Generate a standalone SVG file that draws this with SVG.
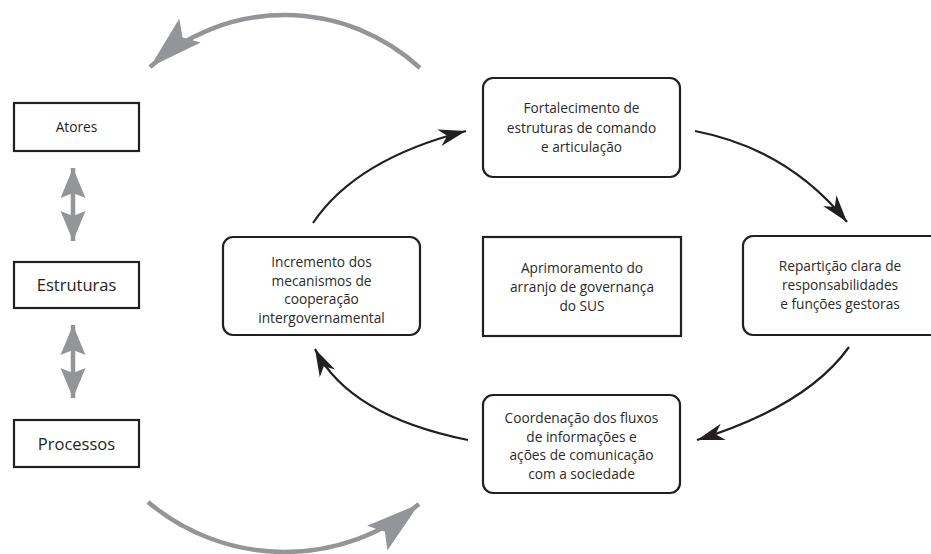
<svg xmlns="http://www.w3.org/2000/svg" width="931" height="554" viewBox="0 0 931 554">
<style>
  .box { fill: #fff; stroke: #231f20; stroke-width: 2.2; }
  .t { font-family: "Open Sans", "Liberation Sans", sans-serif; font-size: 13.7px; fill: #2b2a29; text-anchor: middle; }
  .tl { font-family: "Open Sans", "Liberation Sans", sans-serif; fill: #231f20; text-anchor: middle; }
  .blk { fill: none; stroke: #231f20; stroke-width: 2.2; marker-end: url(#bh); }
  .gry { fill: none; stroke: #939598; stroke-width: 4.5; }
</style>
<defs>
  <marker id="bh" markerUnits="userSpaceOnUse" markerWidth="40" markerHeight="40" viewBox="-30 -15 35 30" refX="0" refY="0" orient="auto">
    <path d="M0,0 L-24,-7.5 L-17,0 L-24,7.5 Z" fill="#231f20"/>
  </marker>
  <marker id="gh" markerUnits="userSpaceOnUse" markerWidth="70" markerHeight="50" viewBox="-60 -25 65 50" refX="0" refY="0" orient="auto">
    <path d="M0,0 L-54,-16 L-44,0 L-54,16 Z" fill="#939598"/>
  </marker>
  <marker id="vh" markerUnits="userSpaceOnUse" markerWidth="40" markerHeight="40" viewBox="-35 -15 40 30" refX="0" refY="0" orient="auto-start-reverse">
    <path d="M0,0 L-30,-12.5 L-25,0 L-30,12.5 Z" fill="#939598"/>
  </marker>
</defs>

<g id="connectors">
  <path class="gry" d="M420,68 A200,200 0 0 0 150,67" marker-end="url(#gh)"/>
  <path class="gry" d="M148,502 A212,212 0 0 0 419,504" marker-end="url(#gh)"/>
  <line x1="73" y1="168" x2="73" y2="241" stroke="#939598" stroke-width="4.5" marker-start="url(#vh)" marker-end="url(#vh)"/>
  <line x1="73" y1="325" x2="73" y2="398" stroke="#939598" stroke-width="4.5" marker-start="url(#vh)" marker-end="url(#vh)"/>
  <path class="blk" d="M313,223 Q356,159 466,131"/>
  <path class="blk" d="M695,131 Q788,149 847,222"/>
  <path class="blk" d="M849,347 Q807,406 697,440"/>
  <path class="blk" d="M468,440 Q349,416 315,349"/>
</g>

<g id="atores">
  <rect class="box" x="14" y="103" width="125" height="48"/>
  <text class="tl" x="76.5" y="132" font-size="13.7">Atores</text>
</g>
<g id="estruturas">
  <rect class="box" x="14" y="262" width="125" height="46"/>
  <text class="tl" x="76.5" y="291" font-size="16.5">Estruturas</text>
</g>
<g id="processos">
  <rect class="box" x="14" y="420" width="125" height="47"/>
  <text class="tl" x="76.5" y="449.5" font-size="16.5">Processos</text>
</g>

<g id="fortalecimento">
  <rect class="box" x="483" y="78" width="197" height="99" rx="10"/>
  <text class="t" x="581.5" y="113">Fortalecimento de</text>
  <text class="t" x="581.5" y="132.5">estruturas de comando</text>
  <text class="t" x="581.5" y="152">e articulação</text>
</g>
<g id="incremento">
  <rect class="box" x="223" y="237" width="197" height="98" rx="10"/>
  <text class="t" x="321.5" y="267">Incremento dos</text>
  <text class="t" x="321.5" y="285.5">mecanismos de</text>
  <text class="t" x="321.5" y="304">cooperação</text>
  <text class="t" x="321.5" y="322.5">intergovernamental</text>
</g>
<g id="aprimoramento">
  <rect class="box" x="483" y="237" width="198" height="99"/>
  <text class="t" x="582" y="273">Aprimoramento do</text>
  <text class="t" x="582" y="292">arranjo de governança</text>
  <text class="t" x="582" y="311">do SUS</text>
</g>
<g id="reparticao">
  <rect class="box" x="743" y="236" width="198" height="99" rx="10"/>
  <text class="t" x="840" y="271">Repartição clara de</text>
  <text class="t" x="840" y="290">responsabilidades</text>
  <text class="t" x="840" y="309">e funções gestoras</text>
</g>
<g id="coordenacao">
  <rect class="box" x="483" y="395" width="197" height="98" rx="10"/>
  <text class="t" x="581.5" y="423">Coordenação dos fluxos</text>
  <text class="t" x="581.5" y="441.5">de informações e</text>
  <text class="t" x="581.5" y="460">ações de comunicação</text>
  <text class="t" x="581.5" y="478.5">com a sociedade</text>
</g>
</svg>
